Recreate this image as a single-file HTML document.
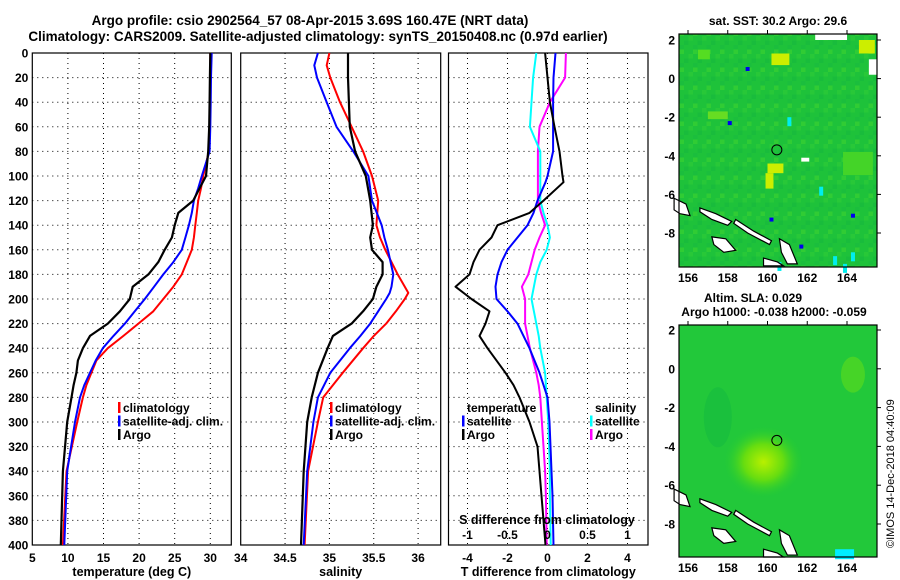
<!DOCTYPE html>
<html><head><meta charset="utf-8"><style>
body{margin:0;background:#fff;}
svg{display:block;font-family:"Liberation Sans",sans-serif;font-weight:bold;}
</style></head><body>
<svg id="c" width="900" height="580" viewBox="0 0 900 580">
<defs>
<pattern id="noise" width="13.5" height="18" patternUnits="userSpaceOnUse">
<rect width="13.5" height="18" fill="#1ec23a"/>
<rect x="0" y="0" width="4.5" height="4.5" fill="#28c838"/>
<rect x="9" y="4.5" width="4.5" height="4.5" fill="#19bc3c"/>
<rect x="4.5" y="13.5" width="4.5" height="4.5" fill="#30cc34"/>
<rect x="4.5" y="9" width="4.5" height="4.5" fill="#1bbe3d"/>
</pattern>
</defs>
<text x="310" y="25" font-size="13.5" text-anchor="middle">Argo profile: csio 2902564_57 08-Apr-2015 3.69S 160.47E (NRT data)</text>
<text x="318" y="41" font-size="13.5" text-anchor="middle">Climatology: CARS2009. Satellite-adjusted climatology: synTS_20150408.nc (0.97d earlier)</text>
<g id="maps"></g>
<text transform="translate(894,548) rotate(-90)" font-size="11" font-weight="normal">©IMOS 14-Dec-2018 04:40:09</text>
</svg>
<script>
const depthsT = [0,20,40,60,80,100,110,120,130,140,150,160,170,180,190,200,210,220,230,240,250,260,270,280,300,340,400];
const tempArgo = [30.0,29.95,29.9,29.85,29.7,29.4,28.5,27.6,25.5,25.0,24.6,23.6,22.7,21.3,19.1,18.7,17.3,15.6,13.1,12.1,11.4,11.2,10.8,10.5,9.9,9.3,9.0];
const tempClim = [30.0,30.0,29.95,29.9,29.8,29.0,28.7,28.3,28.1,27.9,27.7,27.4,26.7,26.0,24.8,23.4,22.0,19.9,17.8,15.6,14.0,13.3,12.6,12.1,11.3,9.8,9.3];
const tempSat = [30.2,30.1,30.05,30.0,29.9,28.8,28.3,27.7,27.4,27.0,26.5,26.0,24.8,23.4,22.1,20.8,19.4,18.0,16.4,14.9,13.9,13.1,12.3,11.7,11.0,9.9,9.5];
const depthsS = [0,10,20,40,60,80,100,120,140,150,160,170,180,190,195,200,210,220,230,240,260,280,300,340,400];
const salArgo = [35.21,35.21,35.21,35.22,35.23,35.29,35.41,35.46,35.49,35.46,35.48,35.6,35.6,35.53,35.51,35.49,35.38,35.25,35.04,34.98,34.87,34.8,34.75,34.71,34.68];
const salClim = [35.0,34.97,35.01,35.12,35.25,35.38,35.48,35.55,35.53,35.57,35.63,35.7,35.77,35.85,35.89,35.85,35.75,35.64,35.5,35.38,35.15,34.93,34.87,34.76,34.72];
const salSat = [34.87,34.83,34.86,34.97,35.08,35.27,35.44,35.48,35.59,35.62,35.66,35.69,35.72,35.7,35.68,35.64,35.55,35.46,35.35,35.23,35.01,34.87,34.82,34.75,34.71];
const depthsD = [0,20,40,60,80,100,105,120,130,140,150,160,170,180,190,200,210,220,230,240,260,270,280,300,320,340,360,400];
const dTArgo = [-0.12,0,0.12,0.35,0.6,0.75,0.8,-0.2,-0.9,-2.5,-2.8,-3.4,-3.7,-3.9,-4.6,-3.8,-2.9,-3.1,-3.4,-3.0,-2.1,-1.7,-1.4,-0.9,-0.5,-0.4,-0.3,-0.1];
const dTSat = [0.4,0.3,0.28,0.28,0.28,0,-0.1,-0.5,-0.7,-1.0,-1.5,-2.0,-2.3,-2.5,-2.6,-2.55,-2.0,-1.5,-1.2,-0.9,-0.4,-0.2,0,0.1,0.15,0.2,0.25,0.3];
const dSArgo = [0.23,0.22,0.03,-0.1,-0.12,-0.12,-0.12,-0.12,-0.08,-0.03,-0.1,-0.16,-0.2,-0.24,-0.32,-0.28,-0.28,-0.28,-0.25,-0.22,-0.14,-0.11,-0.09,-0.07,-0.05,-0.03,-0.02,-0.01];
const dSSat = [-0.14,-0.18,-0.2,-0.22,-0.09,-0.09,-0.09,-0.09,-0.05,0.0,0.03,-0.01,-0.09,-0.14,-0.17,-0.2,-0.17,-0.14,-0.11,-0.09,-0.03,-0.02,-0.01,0.01,0.02,0.03,0.03,0.04];
const yTicks = [0,20,40,60,80,100,120,140,160,180,200,220,240,260,280,300,320,340,360,380,400];

const NS='http://www.w3.org/2000/svg';
const svg=document.getElementById('c');
function el(t,a,p){const e=document.createElementNS(NS,t);for(const k in a)e.setAttribute(k,a[k]);(p||svg).appendChild(e);return e;}
const yS=d=>53+d*1.23;
const Y0=53,Y1=545;

function panel(name,x0,x1,xs,ticks,tickLbl,xlabel,showY){
  const g=el('g',{});
  
  
  ticks.forEach((t,i)=>{const x=xs(t);
    if(x>x0+1&&x<x1-1){const l=el('line',{x1:x,x2:x,y1:Y0,y2:Y1,stroke:'#000','stroke-dasharray':'1,4','stroke-width':1},g);
      }
    if(tickLbl){const tx=el('text',{x:x,y:562,'font-size':12,'text-anchor':'middle'},g);tx.textContent=tickLbl[i];
      }
  });
  yTicks.forEach(d=>{const y=yS(d);
    if(d>0&&d<400){const l=el('line',{x1:x0,x2:x1,y1:y,y2:y,stroke:'#000','stroke-dasharray':'1,4'},g);
      }
    if(showY){const tx=el('text',{x:x0-4,y:y+4.5,'font-size':12,'text-anchor':'end'},g);tx.textContent=d;
      }
  });
  const r=el('rect',{x:x0,y:Y0,width:x1-x0,height:Y1-Y0,fill:'none',stroke:'#000','stroke-width':1.2},g);
  
  const xl=el('text',{x:(x0+x1)/2,y:576,'font-size':12.5,'text-anchor':'middle'},g);xl.textContent=xlabel;
  
  return g;
}
function series(g,name,depths,vals,xs,color,w){
  const pts=depths.map((d,i)=>xs(vals[i]).toFixed(1)+','+yS(d).toFixed(1)).join(' ');
  const p=el('polyline',{points:pts,fill:'none',stroke:color,'stroke-width':w||2,'stroke-linejoin':'round'},g);
  
}
function legend(g,x,y,items){
  items.forEach((it,i)=>{const yy=y+i*13.5;
    if(it[1]){const r=el('rect',{x:x,y:yy-10,width:2.5,height:11,fill:it[1]},g);
      }
    const t=el('text',{x:x+5,y:yy,'font-size':12},g);t.textContent=it[0];
    });
}
const xT=t=>32.3+(t-5)*7.12;
const g1=panel('temperature-panel',32.3,231.3,xT,[5,10,15,20,25,30],['5','10','15','20','25','30'],'temperature (deg C)',true);
series(g1,'temperature-climatology-line',depthsT,tempClim,xT,'#f00');
series(g1,'temperature-satellite-line',depthsT,tempSat,xT,'#00f');
series(g1,'temperature-argo-line',depthsT,tempArgo,xT,'#000',2.2);
legend(g1,118,412,[['climatology','#f00'],['satellite-adj. clim.','#00f'],['Argo','#000']]);
const xSal=s=>240.7+(s-34)*88.7;
const g2=panel('salinity-panel',240.7,440.7,xSal,[34,34.5,35,35.5,36],['34','34.5','35','35.5','36'],'salinity',false);
series(g2,'salinity-climatology-line',depthsS,salClim,xSal,'#f00');
series(g2,'salinity-satellite-line',depthsS,salSat,xSal,'#00f');
series(g2,'salinity-argo-line',depthsS,salArgo,xSal,'#000',2.2);
legend(g2,330,412,[['climatology','#f00'],['satellite-adj. clim.','#00f'],['Argo','#000']]);
const xD=t=>547.5+t*20;
const xDS=s=>547.5+s*80;
const g3=panel('difference-panel',448.5,648,xD,[-4,-2,0,2,4],['-4','-2','0','2','4'],'T difference from climatology',false);
series(g3,'salinity-argo-diff-line',depthsD,dSArgo,xDS,'#f0f');
series(g3,'salinity-satellite-diff-line',depthsD,dSSat,xDS,'#0ff');
series(g3,'temperature-satellite-diff-line',depthsD,dTSat,xD,'#00f');
series(g3,'temperature-argo-diff-line',depthsD,dTArgo,xD,'#000');
legend(g3,462,412,[['temperature',null],['satellite','#00f'],['Argo','#000']]);
legend(g3,590,412,[['salinity',null],['satellite','#0ff'],['Argo','#f0f']]);
const st=el('text',{x:547,y:524,'font-size':12.5,'text-anchor':'middle'},g3);st.textContent='S difference from climatology';

[['-1',-1],['-0.5',-0.5],['0',0],['0.5',0.5],['1',1]].forEach(a=>{const t=el('text',{x:xDS(a[1]),y:539,'font-size':12,'text-anchor':'middle'},g3);t.textContent=a[0];
  });

const maps=document.getElementById('maps');
function map(name,top,bot,lat2y,latm8y,bg){
  const g=el('g',{},maps);
  
  const lx=lon=>688+(lon-156)*19.875;
  const ly=lat=>lat2y+(2-lat)*(latm8y-lat2y)/10;
  el('rect',{x:679,y:top,width:198,height:bot-top,fill:bg},g);
  return {g,lx,ly};
}
const m1=map('sst-map',34,267,40,233,"url(#noise)");
[[156.5,1.5,0.6,0.5,'#55dd22'],[160.2,1.3,0.9,0.6,'#ccee00'],[164.6,2,0.8,0.7,'#ccee00'],[157,-1.7,1.0,0.4,'#66dd22'],[160.0,-4.4,0.8,0.5,'#ccee00'],[159.9,-4.9,0.4,0.8,'#ccee00'],[163.8,-3.8,1.5,1.2,'#44d428'],[162.4,2.3,1.6,0.3,'#ffffff'],[165.1,1.0,0.5,0.8,'#ffffff'],[161.7,-4.1,0.4,0.2,'#ffffff']].forEach(p=>{
  const r=el('rect',{x:m1.lx(p[0]),y:m1.ly(p[1]),width:p[2]*19.9,height:p[3]*19.3,fill:p[4]},m1.g);
  });
[[158.9,0.6],[158,-2.2],[160.1,-7.2],[161.6,-8.6],[164.2,-7]].forEach(p=>el('rect',{x:m1.lx(p[0]),y:m1.ly(p[1]),width:4,height:4,fill:'#0000ee'},m1.g));
[[163.3,-9.2],[163.8,-9.6],[160.5,-9.5],[162.6,-5.6],[164.2,-9],[161,-2]].forEach(p=>el('rect',{x:m1.lx(p[0]),y:m1.ly(p[1]),width:4,height:9,fill:'#00eeee'},m1.g));
const m2=map('sla-map',325,557,330,524,"#22c83a");
const gr=el('radialGradient',{id:'rg'},m2.g);
el('stop',{offset:'0','stop-color':'#b8f000'},gr);el('stop',{offset:'0.5','stop-color':'#66dd10'},gr);el('stop',{offset:'1','stop-color':'#22cc33','stop-opacity':0},gr);
el('ellipse',{cx:m2.lx(159.8),cy:m2.ly(-4.8),rx:40,ry:36,fill:'url(#rg)'},m2.g);
el('ellipse',{cx:m2.lx(164.3),cy:m2.ly(-0.3),rx:12,ry:18,fill:'#55d820',opacity:0.7},m2.g);
el('ellipse',{cx:m2.lx(157.5),cy:m2.ly(-2.5),rx:14,ry:30,fill:'#11b840',opacity:0.5},m2.g);
el('rect',{x:m2.lx(163.4),y:m2.ly(-9.3),width:19,height:10,fill:'#00eeff'},m2.g);
[m1,m2].forEach((m,k)=>{
  const isl=[[[155.3,-6.2],[155.9,-6.5],[156.1,-7.1],[155.6,-7],[155.3,-6.8]],[[156.6,-6.7],[157.4,-7],[158.2,-7.4],[158,-7.6],[157.2,-7.3],[156.6,-6.9]],[[158.4,-7.3],[159.3,-7.9],[160.2,-8.4],[160.1,-8.6],[159,-8],[158.3,-7.5]],[[157.2,-8.2],[157.9,-8.3],[158.4,-8.9],[157.8,-9],[157.3,-8.6]],[[160.6,-8.3],[161.1,-8.6],[161.5,-9.6],[161,-9.6],[160.7,-9]],[[159.8,-9.3],[160.5,-9.5],[160.8,-9.7],[159.8,-9.7]]];
  isl.forEach(poly=>{const p=el('polygon',{points:poly.map(q=>m.lx(q[0])+','+m.ly(q[1])).join(' '),fill:'#fff',stroke:'#000','stroke-width':1.2},m.g);
    });
  const c=el('circle',{cx:m.lx(160.47),cy:m.ly(-3.69),r:5,fill:'none',stroke:'#000','stroke-width':1},m.g);
  
  const top=k?325:34,bot=k?557:267;
  el('rect',{x:679,y:top,width:198,height:bot-top,fill:'none',stroke:'#000','stroke-width':1.2},m.g);
  [156,158,160,162,164].forEach(lon=>{const x=m.lx(lon);
    el('line',{x1:x,x2:x,y1:top-4,y2:top,stroke:'#000'},m.g);
    const t=el('text',{x:x,y:bot+15,'font-size':12,'text-anchor':'middle'},m.g);t.textContent=lon;
    });
  [2,0,-2,-4,-6,-8].forEach(lat=>{const y=m.ly(lat);
    el('line',{x1:877,x2:881,y1:y,y2:y,stroke:'#000'},m.g);
    const t=el('text',{x:675,y:y+4.5,'font-size':12,'text-anchor':'end'},m.g);t.textContent=lat;
    });
});
[['sat. SST: 30.2 Argo: 29.6',778,25],['Altim. SLA: 0.029',753,302],['Argo h1000: -0.038 h2000: -0.059',774,316]].forEach(a=>{
  const t=el('text',{x:a[1],y:a[2],'font-size':12,'text-anchor':'middle'},maps);t.textContent=a[0];
  });
</script>
</body></html>
